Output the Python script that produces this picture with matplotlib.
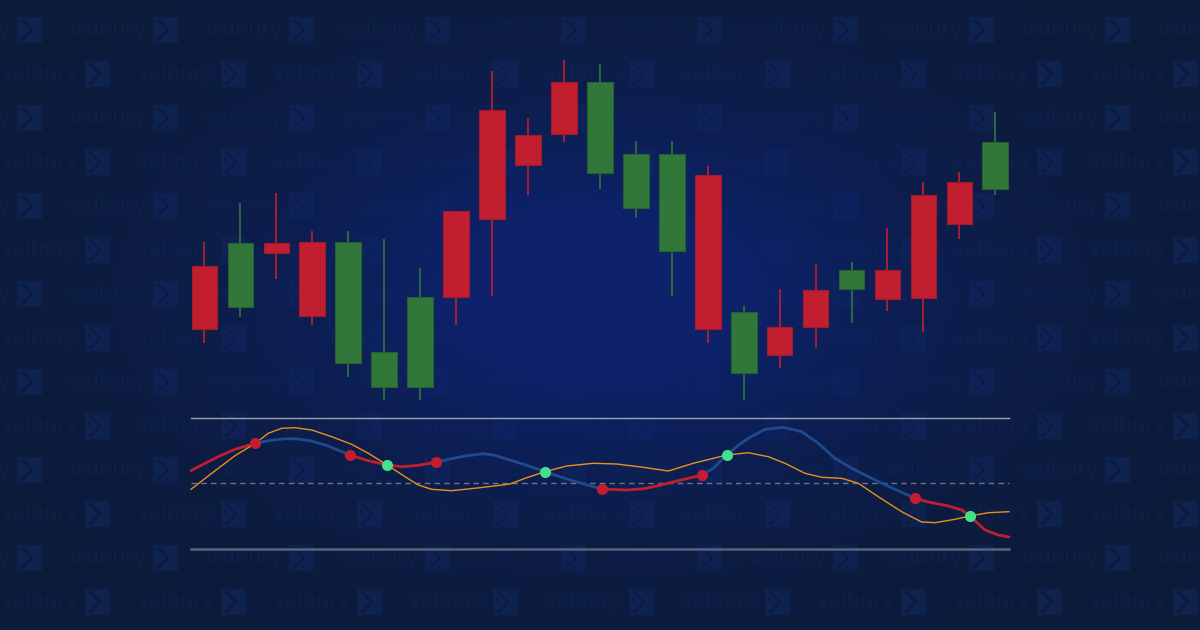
import numpy as np
import matplotlib
matplotlib.use("Agg")
import matplotlib.pyplot as plt
from matplotlib.patches import Rectangle

# ---------------------------------------------------------------------------
# candlesticks (price units)
# ---------------------------------------------------------------------------
opens  = [364, 323, 387, 388, 267, 243, 243, 419, 520, 495, 548, 457,
          422, 379, 455, 257, 303, 340, 341, 360, 435, 448, 441]
highs  = [388, 427, 437, 399, 399, 391, 362, 419, 559, 512, 570, 566,
          489, 489, 464, 324, 341, 366, 368, 402, 448, 458, 518]
lows   = [287, 313, 351, 305, 253, 230, 230, 305, 334, 435, 488, 441,
          412, 334, 287, 230, 262, 282, 307, 319, 298, 391, 435]
closes = [301, 387, 377, 314, 388, 278, 333, 333, 411, 465, 496, 548,
          476, 476, 301, 318, 275, 303, 360, 331, 332, 406, 488]

# ---------------------------------------------------------------------------
# oscillator (time t along the panel, level 0 = lower band, 131 = upper band)
# ---------------------------------------------------------------------------
main_t = [0, 14, 27.3, 44, 64.3, 77.3, 94, 107.3, 120.7, 137.3, 159, 177.3,
          196.3, 210.7, 227.3, 244.7, 260.7, 274, 292.3, 302.3, 319, 335.7,
          354, 369, 385.7, 410.7, 435.7, 452.3, 469, 485.7, 511.3, 522.3,
          535.7, 549, 557.3, 574, 592.3, 610.7, 627.3, 644, 660.7, 684, 704,
          723.7, 737.3, 757.3, 770.7, 779, 794, 807.3, 818]
main_v = [78.3, 85.7, 92.3, 99.7, 105.7, 108.3, 110.3, 110, 108, 103, 94, 88.3,
          84, 82.3, 83.7, 86.7, 90.3, 93, 95.3, 94, 89, 83.7,
          77.3, 72.3, 67, 60, 59, 60.3, 63.7, 68, 74, 80.7,
          94, 105, 110.7, 119.7, 121.7, 117.3, 105.7, 90.7, 80.7, 69, 59.7,
          51, 47, 43, 39, 33, 19, 14, 12]

signal_t = [0, 20.7, 44, 64.3, 77.3, 90.7, 104, 120.7, 140.7, 160.7, 177.3,
            196.3, 214, 227.3, 240.7, 260.7, 289, 319, 335.7, 354, 375.7,
            402.3, 425.7, 452.3, 477.3, 502.3, 535.7, 557.3, 577.3, 594, 614,
            630.7, 650.7, 667.3, 687.3, 710.7, 730.7, 744, 764, 779, 797.3, 818]
signal_v = [59.7, 75.7, 93.3, 105.7, 115.7, 120.7, 121.3, 119, 112.3, 104.7, 95.7,
            84, 72.3, 64, 59.7, 58.3, 61.3, 65, 71.3, 77.3, 83,
            85.7, 85, 81.7, 78, 85.7, 94, 96.3, 92.3, 85.7, 75.7,
            71.7, 70.7, 65.7, 52.3, 37.3, 27, 26.3, 29.7, 33, 36.3, 37.3]

# crossing markers and colour of the main line between them
dot_t = [64.3, 159, 196.3, 244.7, 354, 410.7, 511.3, 535.7, 723.7, 779]
dot_kind = ["down", "down", "up", "down", "up", "down", "down", "up", "down", "up"]
seg_kind = ["down", "up", "down", "down", "up", "up", "down", "up", "up",
            "down", "down"]

upper_band, mid_band, lower_band = 131, 66, 0

# ---------------------------------------------------------------------------
BG = "#0c1b38"
GLOW = np.array([13, 34, 106]) / 255.0
WM_TEXT = "#0e2044"
WM_LOGO = "#0f224c"
RED, RED_EDGE = "#c11f2f", "#a01b2b"
GREEN, GREEN_EDGE = "#31773a", "#285f31"
BLUE_LINE = "#1f4a8f"
ORANGE = "#e8901e"
DOT_RED, DOT_GREEN = "#c41d30", "#44e08e"

W, H = 1200, 630
fig = plt.figure(figsize=(12, 6.3), dpi=100, facecolor=BG)

# ---- background: tiled watermark + central glow ----
bg = fig.add_axes([0, 0, 1, 1])
bg.axis("off")
bg.set_facecolor(BG)

for k in range(14):
    yc = 30 + 44 * k
    x0 = -68 if k % 2 == 0 else 0
    for n in range(10):
        xs = x0 + 136 * n
        bg.text(xs, yc, "valbury", color=WM_TEXT, fontsize=15,
                family="DejaVu Sans", va="center", ha="left", zorder=1,
                clip_on=True)
        bg.add_patch(Rectangle((xs + 85, yc - 13), 25, 26, color=WM_LOGO,
                               lw=0, zorder=1))
        bg.plot([xs + 90, xs + 100, xs + 90], [yc - 10, yc, yc + 10],
                color=BG, lw=1.6, zorder=1.5)

gx, gy = np.meshgrid(np.arange(W), np.arange(H))
alpha = np.exp(-(((gx - 600) / 330.0) ** 2 + ((gy - 295) / 190.0) ** 2) ** 0.8)
glow = np.zeros((H, W, 4))
glow[..., :3] = GLOW
glow[..., 3] = np.clip(alpha * 1.3, 0, 1)
bg.imshow(glow, extent=(0, W, H, 0), zorder=2, interpolation="bilinear")
bg.set_xlim(0, W)
bg.set_ylim(H, 0)

# ---- candles ----
n = len(opens)
ax = fig.add_axes([186.5 / W, 1 - 410 / H, 826.8 / W, 360 / H])
ax.set_facecolor("none")
ax.axis("off")
ax.set_xlim(-0.5, n - 0.5)
ax.set_ylim(220, 580)
for i in range(n):
    up = closes[i] > opens[i]
    fill, edge = (GREEN, GREEN_EDGE) if up else (RED, RED_EDGE)
    ax.vlines(i, lows[i], highs[i], color=fill, lw=1.2, zorder=2)
    ax.bar(i, abs(closes[i] - opens[i]), bottom=min(opens[i], closes[i]),
           width=0.715, color=fill, edgecolor=edge, lw=0.8, zorder=3)

# ---- oscillator ----
osc = fig.add_axes([180 / W, 1 - 560 / H, 840 / W, 155 / H])
osc.set_facecolor("none")
osc.axis("off")
osc.set_xlim(-11, 829)
osc.set_ylim(-11, 144)
osc.axhline(upper_band, xmin=11 / 840, xmax=829 / 840, color="#9ba3b4", lw=1.0)
osc.axhline(lower_band, xmin=11 / 840, xmax=829 / 840, color="#5b6477", lw=1.8)
osc.axhline(mid_band, xmin=11 / 840, xmax=829 / 840, color="#6b7488", lw=1.0,
            ls=(0, (4, 3)))

mt = np.array(main_t)
mv = np.array(main_v)
bounds = [mt[0]] + dot_t + [mt[-1]]
for j, kind in enumerate(seg_kind):
    sel = (mt >= bounds[j]) & (mt <= bounds[j + 1])
    osc.plot(mt[sel], mv[sel], color=RED if kind == "down" else BLUE_LINE,
             lw=2.0, solid_capstyle="round", solid_joinstyle="round", zorder=3)

osc.plot(signal_t, signal_v, color=ORANGE, lw=1.0, zorder=4,
         solid_joinstyle="round")

dot_v = [mv[np.argmin(np.abs(mt - t))] for t in dot_t]
for t, v, kind in zip(dot_t, dot_v, dot_kind):
    osc.plot(t, v, "o", ms=8, mew=0, zorder=5,
             color=DOT_GREEN if kind == "up" else DOT_RED)

fig.savefig("out.png", dpi=100, facecolor=BG)
